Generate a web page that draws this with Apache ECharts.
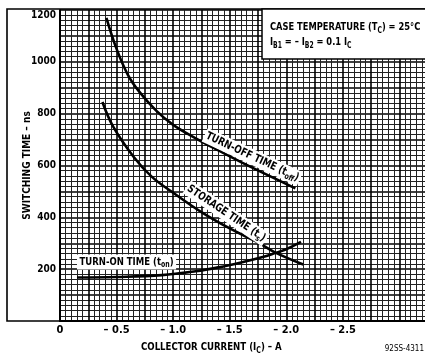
<!DOCTYPE html>
<html><head><meta charset="utf-8">
<script src="https://cdn.jsdelivr.net/npm/echarts@6/dist/echarts.min.js"></script>
<style>html,body{margin:0;padding:0;background:#fff}#c{width:425px;height:358px}</style>
</head><body><div id="c"></div>
<script>
// Data (collector current in A, time in ns)
const offCurrent = [-0.41, -0.5, -0.6, -0.7, -0.85, -1.0, -1.2, -1.4, -1.6, -1.85, -2.08];
const offTime    = [1170, 1050, 950, 885, 812, 757, 705, 658, 613, 560, 512];
const stCurrent  = [-0.375, -0.47, -0.65, -0.81, -1.0, -1.25, -1.5, -1.75, -1.9, -2.15];
const stTime     = [845, 750, 634, 557, 495, 420, 357, 303, 265, 218];
const onCurrent  = [-0.15, -0.5, -0.9, -1.2, -1.4, -1.6, -1.8, -1.9, -2.0, -2.13];
const onTime     = [168, 170, 177, 192, 207, 226, 248, 262, 277, 305];
const xTickLabels = ['0', '– 0.5', '– 1.0', '– 1.5', '– 2.0', '– 2.5'];
const yTickLabels = ['200', '400', '600', '800', '1000', '1200'];

const FONT = '"Liberation Sans Narrow", "DejaVu Sans Condensed", sans-serif';
const pairs = (xs, ys) => xs.map((x, i) => [x, ys[i]]);

const chart = echarts.init(document.getElementById('c'), null, {renderer: 'canvas'});

function xLabel(v) {
  const k = Math.round(-v * 2);
  if (Math.abs(-v * 2 - k) > 1e-6) return '';
  return xTickLabels[k] || '';
}
function yLabel(v) {
  const k = Math.round(v / 200);
  if (Math.abs(v / 200 - k) > 1e-6 || k === 0) return '';
  const t = yTickLabels[k - 1] || '';
  return k === 6 ? '{t|' + t + '}' : t;
}

const lineStyle = {color: '#000', width: 2.6};
chart.setOption({
  animation: false,
  backgroundColor: '#fff',
  grid: {left: 60, top: 10, width: 396, height: 311, containLabel: false, outerBoundsMode: 'none'},
  xAxis: {
    type: 'value', inverse: true, min: -3.5, max: 0, interval: 0.25,
    axisLine: {show: true, onZero: false, lineStyle: {color: '#000', width: 2}},
    axisTick: {show: false},
    minorTick: {show: false, splitNumber: 5},
    axisLabel: {formatter: xLabel, color: '#000', fontFamily: FONT, fontWeight: 'bold', fontSize: 11, margin: 4},
    splitLine: {show: true, lineStyle: {color: '#000', width: 1.6}},
    minorSplitLine: {show: true, lineStyle: {color: '#222', width: 1}}
  },
  yAxis: {
    type: 'value', min: 0, max: 1200, interval: 100,
    name: 'SWITCHING TIME – ns', nameLocation: 'middle', nameGap: 28, nameMoveOverlap: false,
    nameTextStyle: {color: '#000', fontFamily: FONT, fontWeight: 'bold', fontSize: 10},
    axisLine: {show: true, lineStyle: {color: '#000', width: 2}},
    axisTick: {show: false},
    minorTick: {show: false, splitNumber: 5},
    axisLabel: {formatter: yLabel, color: '#000', fontFamily: FONT, fontWeight: 'bold', fontSize: 10, margin: 4,
      rich: {t: {fontFamily: FONT, fontWeight: 'bold', fontSize: 10, color: '#000', padding: [10, 0, 0, 0]}}},
    splitLine: {show: true, lineStyle: {color: '#000', width: 1.6}},
    minorSplitLine: {show: true, lineStyle: {color: '#222', width: 1}}
  },
  series: [
    {type: 'line', name: 'off', data: pairs(offCurrent, offTime), smooth: 0.4, showSymbol: false, lineStyle, z: 5},
    {type: 'line', name: 'st', data: pairs(stCurrent, stTime), smooth: 0.4, showSymbol: false, lineStyle, z: 5},
    {type: 'line', name: 'on', data: pairs(onCurrent, onTime), smooth: 0.4, showSymbol: false, lineStyle, z: 5}
  ]
});

const P = (x, y) => chart.convertToPixel({gridIndex: 0}, [x, y]);
const rich = {
  n: {fontFamily: FONT, fontWeight: 'bold', fontSize: 11, fill: '#000', lineHeight: 15},
  s: {fontFamily: FONT, fontWeight: 'bold', fontSize: 8, fill: '#000', lineHeight: 15, verticalAlign: 'bottom', padding: [5, 0, 0, 0]}
};
const deg = d => d * Math.PI / 180;
const pOff = P(-1.7, 633), pSt = P(-1.47, 415), pOn = P(-0.15, 228);

chart.setOption({
  graphic: [
    // outer frame (left/top/bottom extension)
    {type: 'polyline', shape: {points: [[59, 9], [7, 9], [7, 321], [60, 321]]}, style: {stroke: '#000', lineWidth: 1.6, fill: null}, z: 10},
    {type: 'line', shape: {x1: 59, y1: 9, x2: 425, y2: 9}, style: {stroke: '#000', lineWidth: 1.6}, z: 10},
    // condition box
    {type: 'rect', shape: {x: 262, y: 9, width: 170, height: 50}, style: {fill: '#fff', stroke: '#000', lineWidth: 1.5}, z: 20},
    {type: 'text', x: 270, y: 20, scaleX: 0.84, z: 21, style: {
      text: '{n|CASE TEMPERATURE (T}{s|C}{n|) = 25°C}\n{n|I}{s|B1}{n| = – I}{s|B2}{n| = 0.1 I}{s|C}', rich}},
    // curve labels
    {type: 'text', x: pOff[0], y: pOff[1], rotation: deg(-25), scaleX: 0.88, z: 21, style: {
      text: '{n|TURN-OFF TIME (t}{s|off}{n|)}', rich, align: 'center', verticalAlign: 'middle', backgroundColor: '#fff', padding: [0, 2]}},
    {type: 'text', x: pSt[0], y: pSt[1], rotation: deg(-34), scaleX: 0.88, z: 21, style: {
      text: '{n|STORAGE TIME (t}{s|s}{n|)}', rich, align: 'center', verticalAlign: 'middle', backgroundColor: '#fff', padding: [0, 2]}},
    {type: 'text', x: pOn[0], y: pOn[1], scaleX: 0.86, z: 21, style: {
      text: '{n|TURN-ON TIME (t}{s|on}{n|)}', rich, align: 'left', verticalAlign: 'middle', backgroundColor: '#fff', padding: [0, 3]}},
    // x axis title and figure code
    {type: 'text', x: 141, y: 340, scaleX: 0.87, z: 21, style: {
      text: '{n|COLLECTOR CURRENT (I}{s|C}{n|) – A}', rich}},
    {type: 'text', x: 424, y: 345, z: 21, style: {
      text: '92SS-4311', fontFamily: FONT, fontSize: 8, fill: '#000', align: 'right'}}
  ]
});
</script></body></html>
